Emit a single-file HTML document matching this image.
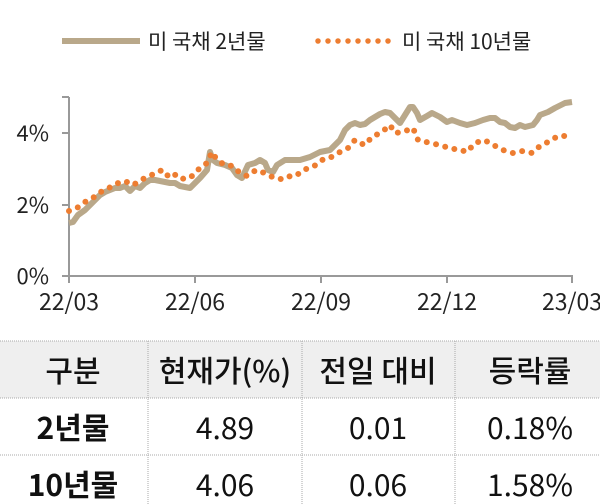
<!DOCTYPE html>
<html><head><meta charset="utf-8"><style>
body{margin:0;width:600px;height:504px;background:#fff;overflow:hidden}
svg{position:absolute;left:0;top:0}
</style></head><body>
<svg width="600" height="504" xmlns="http://www.w3.org/2000/svg" font-family="Noto Sans CJK KR, Liberation Sans, sans-serif">
<line x1="62" y1="41" x2="140" y2="41" stroke="#b9a88a" stroke-width="6"/>
<text x="148" y="49" font-size="21" fill="#222">미 국채 2년물</text>
<line x1="318" y1="41" x2="392" y2="41" stroke="#ed7d31" stroke-width="5.5" stroke-linecap="round" stroke-dasharray="0 10"/>
<text x="402" y="49" font-size="21" fill="#222">미 국채 10년물</text>
<g stroke="#999" stroke-width="2">
<line x1="69" y1="97" x2="69" y2="277"/>
<line x1="62" y1="276" x2="573" y2="276"/>
<line x1="62" y1="205" x2="69" y2="205"/><line x1="62" y1="133" x2="69" y2="133"/><line x1="62" y1="97" x2="69" y2="97"/>
<line x1="69" y1="276" x2="69" y2="283"/><line x1="195" y1="276" x2="195" y2="283"/><line x1="321" y1="276" x2="321" y2="283"/><line x1="447" y1="276" x2="447" y2="283"/><line x1="572" y1="276" x2="572" y2="283"/>
</g>
<g font-size="22" fill="#222" text-anchor="end">
<text x="49" y="141">4%</text><text x="49" y="213">2%</text><text x="49" y="284">0%</text>
</g>
<g font-size="23" fill="#222" text-anchor="middle">
<text x="69" y="310">22/03</text><text x="195" y="310">22/06</text><text x="321" y="310">22/09</text><text x="447" y="310">22/12</text><text x="572" y="310">23/03</text>
</g>
<polyline fill="none" stroke="#b9a88a" stroke-width="6" stroke-linejoin="round" points="69,223 73,222 78,215 85,210 90,205 95,200 100,195 105,192 115,188 120,188 125,186 130,191 135,186 140,188 145,183 150,180 155,180 160,181 165,182 170,183 175,183 180,186 185,187 190,188 200,178 207,170 210,152 213,160 217,163 225,165 232,168 237,175 242,178 248,165 255,163 260,160 265,163 268,170 273,172 277,165 285,160 300,160 310,157 320,152 330,150 335,145 340,140 345,130 350,125 355,123 360,125 365,124 370,120 375,117 380,114 385,112 390,113 395,118 400,123 405,115 410,107 413,107 417,113 420,120 427,116 432,113 440,117 447,122 452,120 460,123 467,125 475,123 483,120 490,118 495,118 500,122 505,123 510,127 515,128 520,125 525,127 533,125 537,120 540,115 548,112 555,108 565,103 572,102"/>
<polyline fill="none" stroke="#ed7d31" stroke-width="6" stroke-linecap="round" stroke-dasharray="0 9.5" points="69,211 77,208 85,202 93,198 98,193 106,190 115,184 125,181 133,185 143,179 150,176 157,172 163,170 168,176 173,173 180,179 190,178 200,168 207,163 212,152 217,160 225,165 233,166 240,173 247,176 256,170 262,172 270,176 278,179 285,179 292,175 297,175 303,170 313,167 322,160 328,159 338,153 348,148 355,140 360,143 365,145 372,137 382,132 390,125 395,133 403,132 413,128 418,140 426,142 435,144 443,146 452,149 458,149 467,152 475,143 484,140 492,144 500,149 506,151 513,153 523,151 532,153 540,146 548,142 558,136 567,136"/>
<rect x="0" y="341" width="600" height="57" fill="#efefef"/>
<g stroke="#aaa" stroke-width="1" stroke-dasharray="1 1">
<line x1="0" y1="341" x2="600" y2="341"/><line x1="0" y1="398" x2="600" y2="398"/><line x1="0" y1="455" x2="600" y2="455"/>
<line x1="148" y1="341" x2="148" y2="504"/><line x1="302" y1="341" x2="302" y2="504"/><line x1="455" y1="341" x2="455" y2="504"/>
</g>
<g font-size="30" fill="#111" text-anchor="middle">
<text x="73" y="382" font-weight="500">구분</text><text x="225" y="382" font-weight="500">현재가(%)</text><text x="378" y="382" font-weight="500">전일 대비</text><text x="530" y="382" font-weight="500">등락률</text>
<text x="73" y="439" font-weight="bold">2년물</text><text x="225" y="439">4.89</text><text x="378" y="439">0.01</text><text x="530" y="439">0.18%</text>
<text x="73" y="496" font-weight="bold">10년물</text><text x="225" y="496">4.06</text><text x="378" y="496">0.06</text><text x="530" y="496">1.58%</text>
</g>
</svg>
</body></html>
